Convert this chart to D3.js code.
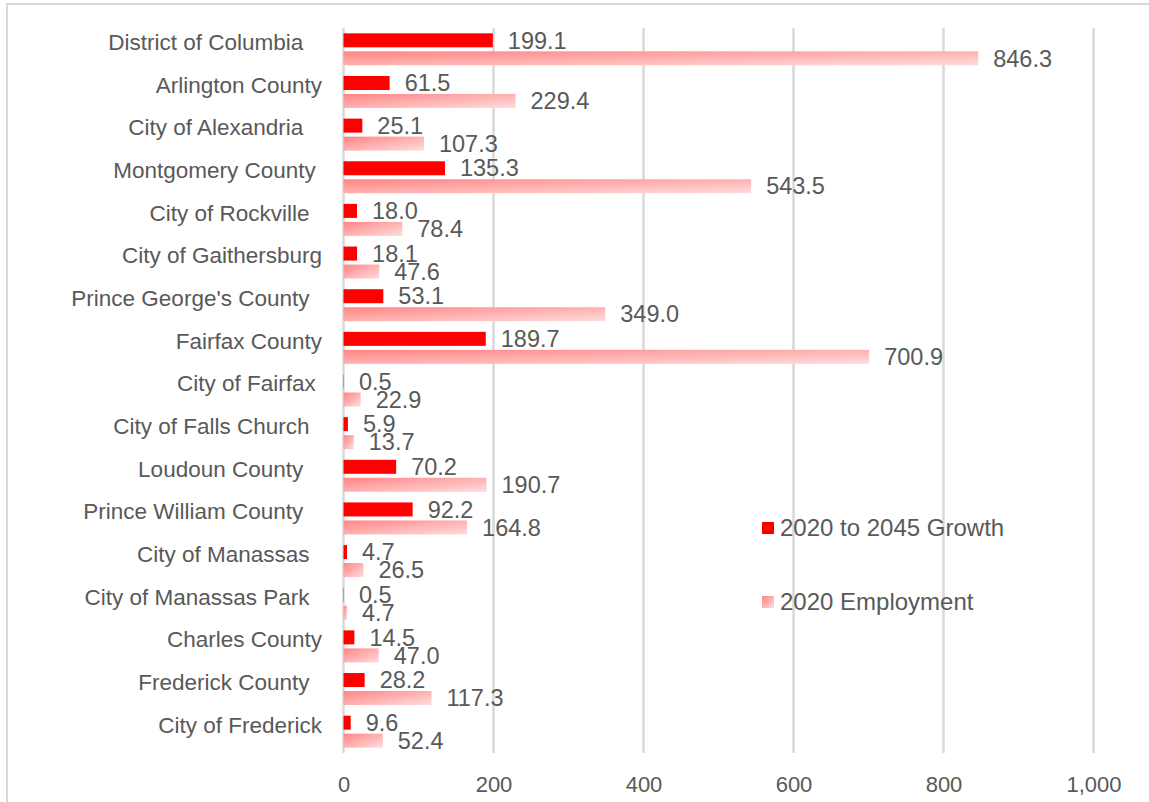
<!DOCTYPE html>
<html>
<head>
<meta charset="utf-8">
<script src="https://cdn.jsdelivr.net/npm/d3@7"></script>
<style>
  body { margin: 0; background: #fff; }
  svg text { white-space: pre; }
</style>
</head>
<body>
<div id="chart"></div>
<script>
// categories keep the trailing spaces the source sheet had
var categories = [
  "District of Columbia   ", "Arlington County", "City of Alexandria   ",
  "Montgomery County ", "City of Rockville  ", "City of Gaithersburg",
  "Prince George's County  ", "Fairfax County", "City of Fairfax ",
  "City of Falls Church  ", "Loudoun County   ", "Prince William County   ",
  "City of Manassas  ", "City of Manassas Park  ", "Charles County",
  "Frederick County  ", "City of Frederick"
];
var growth = [199.1, 61.5, 25.1, 135.3, 18.0, 18.1, 53.1, 189.7, 0.5, 5.9, 70.2, 92.2, 4.7, 0.5, 14.5, 28.2, 9.6];
var employment = [846.3, 229.4, 107.3, 543.5, 78.4, 47.6, 349.0, 700.9, 22.9, 13.7, 190.7, 164.8, 26.5, 4.7, 47.0, 117.3, 52.4];
var seriesNames = ["2020 to 2045 Growth", "2020 Employment"];
var xTicks = [0, 200, 400, 600, 800, 1000];

var width = 1149, height = 802;
var textColor = "#595959";
var gridColor = "#d9d9d9";
var labelFont = "'Liberation Sans', Arial, sans-serif";

var svg = d3.select("#chart").append("svg")
    .attr("width", width)
    .attr("height", height);

var defs = svg.append("defs");
var grad = defs.append("linearGradient").attr("id", "pinkGrad")
    .attr("x1", 0).attr("y1", 0).attr("x2", 1).attr("y2", 1);
grad.append("stop").attr("offset", "0%").attr("stop-color", "#ff8585");
grad.append("stop").attr("offset", "100%").attr("stop-color", "#ffdcdc");

// outer frame (runs off the bottom / right like the screenshot)
svg.append("rect")
    .attr("x", 7).attr("y", 4)
    .attr("width", 1160).attr("height", 820)
    .attr("fill", "none")
    .attr("stroke", gridColor)
    .attr("stroke-width", 2);

var x = d3.scaleLinear().domain([0, 1000]).range([343.5, 1093.5]);
var y = d3.scaleBand().domain(categories).range([28, 753]);

// gridlines
svg.append("g").selectAll("line")
  .data(xTicks)
  .enter().append("line")
    .attr("x1", function(d) { return x(d); })
    .attr("x2", function(d) { return x(d); })
    .attr("y1", 28)
    .attr("y2", 753)
    .attr("stroke", gridColor)
    .attr("stroke-width", 2.5);

// x axis labels
var xAxis = svg.append("g")
    .attr("transform", "translate(0,784)")
    .call(d3.axisBottom(x).tickValues(xTicks).tickSize(0).tickFormat(d3.format(",")));
xAxis.select(".domain").remove();
xAxis.selectAll("text")
    .attr("dy", "0.35em")
    .attr("y", 0)
    .attr("fill", textColor)
    .style("font-family", "'Liberation Sans Narrow', 'Arial Narrow', sans-serif")
    .style("font-size", "22px");

// category labels
svg.append("g").selectAll("text")
  .data(categories)
  .enter().append("text")
    .attr("x", 322)
    .attr("y", function(d) { return y(d) + y.bandwidth() / 2 - 7; })
    .attr("dy", "0.35em")
    .attr("text-anchor", "end")
    .attr("fill", textColor)
    .style("font-family", labelFont)
    .style("font-size", "22.5px")
    .text(function(d) { return d; });

var barH = 14;
var rows = categories.map(function(c, i) {
  return { cat: c, growth: growth[i], employment: employment[i] };
});

var groups = svg.append("g").selectAll("g")
  .data(rows)
  .enter().append("g")
    .attr("transform", function(d) { return "translate(0," + (y(d.cat) + y.bandwidth() / 2) + ")"; });

groups.append("rect")
    .attr("x", x(0))
    .attr("y", -16)
    .attr("width", function(d) { return x(d.growth) - x(0); })
    .attr("height", barH)
    .attr("fill", "#ff0000");

groups.append("rect")
    .attr("x", x(0))
    .attr("y", 2)
    .attr("width", function(d) { return x(d.employment) - x(0); })
    .attr("height", barH)
    .attr("fill", "url(#pinkGrad)");

var fmt = d3.format(".1f");
groups.append("text")
    .attr("x", function(d) { return x(d.growth) + 15; })
    .attr("y", -9)
    .attr("dy", "0.35em")
    .attr("fill", textColor)
    .style("font-family", labelFont)
    .style("font-size", "23.5px")
    .text(function(d) { return fmt(d.growth); });

groups.append("text")
    .attr("x", function(d) { return x(d.employment) + 15; })
    .attr("y", 9)
    .attr("dy", "0.35em")
    .attr("fill", textColor)
    .style("font-family", labelFont)
    .style("font-size", "23.5px")
    .text(function(d) { return fmt(d.employment); });

// legend
var legend = svg.append("g").selectAll("g")
  .data(seriesNames)
  .enter().append("g")
    .attr("transform", function(d, i) { return "translate(762," + (528 + i * 74) + ")"; });

legend.append("rect")
    .attr("x", 0).attr("y", -6)
    .attr("width", 12).attr("height", 12)
    .attr("fill", function(d, i) { return i === 0 ? "#ff0000" : "url(#pinkGrad)"; });

legend.append("text")
    .attr("x", 18)
    .attr("y", 0)
    .attr("dy", "0.35em")
    .attr("fill", textColor)
    .style("font-family", labelFont)
    .style("font-size", "24px")
    .text(function(d) { return d; });
</script>
</body>
</html>
